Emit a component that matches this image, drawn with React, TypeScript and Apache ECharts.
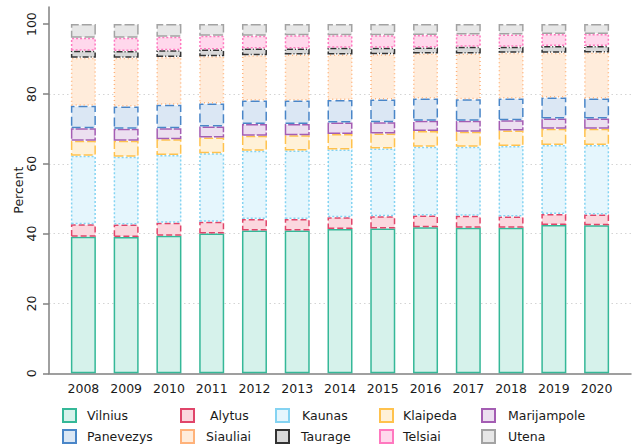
import React, { useEffect, useRef } from "react";
import * as echarts from "echarts";

const years = ["2008", "2009", "2010", "2011", "2012", "2013", "2014", "2015", "2016", "2017", "2018", "2019", "2020"];
const yTicks = [0, 20, 40, 60, 80, 100];

const vilnius = [39.1, 39.0, 39.4, 40.0, 40.9, 40.9, 41.3, 41.5, 41.8, 41.7, 41.7, 42.5, 42.4];
const alytus = [3.6, 3.6, 3.7, 3.4, 3.3, 3.3, 3.4, 3.5, 3.4, 3.4, 3.2, 3.1, 3.1];
const kaunas = [19.6, 19.4, 19.4, 19.6, 19.5, 19.6, 19.4, 19.4, 19.7, 19.8, 20.2, 19.8, 19.9];
const klaipeda = [4.3, 4.6, 4.5, 4.5, 4.3, 4.4, 4.4, 4.3, 4.5, 4.3, 4.4, 4.6, 4.6];
const marijampole = [3.6, 3.4, 3.2, 3.2, 3.4, 3.2, 3.3, 3.2, 2.9, 3.1, 3.0, 3.0, 3.0];
const panevezys = [6.4, 6.4, 6.7, 6.6, 6.7, 6.7, 6.5, 6.5, 6.4, 6.2, 6.2, 6.0, 5.7];
const siauliai = [13.8, 14.0, 13.7, 13.5, 13.0, 13.2, 13.0, 13.0, 12.9, 13.1, 13.1, 12.8, 13.2];
const taurage = [2.0, 1.9, 1.9, 1.9, 1.9, 1.7, 1.9, 1.8, 1.7, 1.9, 1.7, 1.9, 1.8];
const telsiai = [3.7, 3.8, 3.9, 4.0, 3.7, 3.8, 3.6, 3.6, 3.6, 3.5, 3.5, 3.5, 3.5];
const utena = [3.9, 3.9, 3.6, 3.3, 3.3, 3.2, 3.2, 3.2, 3.1, 3.0, 3.0, 2.8, 2.8];

const seriesDefs = [
  { name: "Vilnius", data: vilnius, fill: "#d6f2eb", border: "#35b898", dash: "solid" as any },
  { name: "Alytus", data: alytus, fill: "#fbd7de", border: "#e0456a", dash: [6, 3] },
  { name: "Kaunas", data: kaunas, fill: "#e5f6fd", border: "#84d3f2", dash: [2, 2] },
  { name: "Klaipeda", data: klaipeda, fill: "#fff1d8", border: "#ffc24d", dash: [9, 3] },
  { name: "Marijampole", data: marijampole, fill: "#ecdff0", border: "#a45db3", dash: [12, 2] },
  { name: "Panevezys", data: panevezys, fill: "#dbe7f4", border: "#4a86c8", dash: [9, 4] },
  { name: "Siauliai", data: siauliai, fill: "#ffecdb", border: "#ffb27a", dash: [1, 3] },
  { name: "Taurage", data: taurage, fill: "#d8d8d8", border: "#333333", dash: [6, 2, 1, 2] },
  { name: "Telsiai", data: telsiai, fill: "#ffd8ec", border: "#ff78bf", dash: [2, 2] },
  { name: "Utena", data: utena, fill: "#e7e7e7", border: "#a3a3a3", dash: [10, 3] },
];

const FONT = "DejaVu Sans";
const TXT = "#1a1a1a";
const AXIS = "#808080";
const YMAX = 104.9;

function legendCol(left: number, items: { name: string; pad: number }[]) {
  return {
    orient: "vertical",
    left,
    top: 408,
    icon: "rect",
    itemWidth: 13,
    itemHeight: 13,
    itemGap: 6,
    padding: 0,
    selectedMode: false,
    data: items.map((it) => ({
      name: it.name,
      textStyle: { padding: [0, 0, 0, it.pad] },
    })),
    textStyle: { fontFamily: FONT, fontSize: 12.5, color: TXT, lineHeight: 13 },
  };
}

export default function App() {
  const ref = useRef<HTMLDivElement>(null);
  useEffect(() => {
    if (!ref.current) return;
    const chart = echarts.init(ref.current, null, { renderer: "svg" });
    chart.setOption({
      animation: false,
      backgroundColor: "#ffffff",
      textStyle: { fontFamily: FONT },
      grid: [
        { left: 62, right: 19, top: 7, bottom: 70.7, containLabel: false },
        { left: 49, right: 6, top: 7, bottom: 70.7, containLabel: false },
      ],
      xAxis: [
        {
          type: "category",
          gridIndex: 0,
          data: years,
          axisLine: { show: false },
          axisTick: { show: false },
          splitLine: { show: false },
          axisLabel: { fontFamily: FONT, fontSize: 12.5, color: TXT, margin: 9 },
        },
        {
          type: "value",
          gridIndex: 1,
          min: 0,
          max: 1,
          axisLine: { show: true, lineStyle: { color: AXIS, width: 1.5 } },
          axisTick: { show: false },
          axisLabel: { show: false },
          splitLine: { show: false },
        },
      ],
      yAxis: [
        {
          type: "value",
          gridIndex: 0,
          min: 0,
          max: YMAX,
          show: false,
          splitLine: { show: false },
        },
        {
          type: "value",
          gridIndex: 1,
          min: 0,
          max: YMAX,
          interval: 20,
          name: "Percent",
          nameLocation: "middle",
          nameGap: 24,
          nameMoveOverlap: false,
          nameTextStyle: { fontFamily: FONT, fontSize: 12.5, color: TXT },
          axisLine: { show: true, lineStyle: { color: AXIS, width: 1.5 } },
          axisTick: {
            show: true,
            length: 6,
            customValues: yTicks,
            lineStyle: { color: AXIS, width: 1.5 },
          },
          axisLabel: {
            customValues: yTicks,
            rotate: 90,
            margin: 11,
            fontFamily: FONT,
            fontSize: 12.5,
            color: TXT,
          },
          splitLine: {
            show: true,
            showMinLine: false,
            showMaxLine: false,
            lineStyle: { color: "#d4d4d4", width: 1, type: [1.5, 3] },
          },
        },
      ],
      legend: [
        legendCol(62, [
          { name: "Vilnius", pad: 6 },
          { name: "Panevezys", pad: 6 },
        ]),
        legendCol(180, [
          { name: "Alytus", pad: 11 },
          { name: "Siauliai", pad: 7 },
        ]),
        legendCol(275, [
          { name: "Kaunas", pad: 8 },
          { name: "Taurage", pad: 7 },
        ]),
        legendCol(379, [
          { name: "Klaipeda", pad: 5 },
          { name: "Telsiai", pad: 5 },
        ]),
        legendCol(481, [
          { name: "Marijampole", pad: 8 },
          { name: "Utena", pad: 8 },
        ]),
      ],
      series: seriesDefs.map((s) => ({
        name: s.name,
        type: "bar",
        xAxisIndex: 0,
        yAxisIndex: 0,
        stack: "total",
        barWidth: 25,
        data: s.data,
        itemStyle: {
          color: s.fill,
          borderColor: s.border,
          borderWidth: 1.5,
          borderType: s.dash,
        },
        emphasis: { disabled: true },
      })),
    });
    return () => chart.dispose();
  }, []);
  return (
    <div
      ref={ref}
      style={{ position: "fixed", left: 0, top: 0, width: 637, height: 444 }}
    />
  );
}
